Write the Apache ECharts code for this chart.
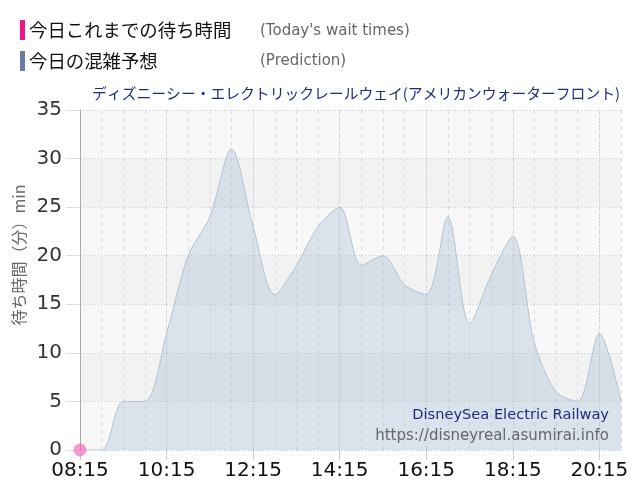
<!DOCTYPE html>
<html>
<head>
<meta charset="utf-8">
<script src="https://cdn.jsdelivr.net/npm/echarts@6/dist/echarts.min.js"></script>
<style>html,body{margin:0;padding:0;background:#fff;}#c{width:640px;height:500px;}</style>
</head>
<body>
<div id="c"></div>
<script>
var times = ["08:15","08:45","09:15","09:45","10:15","10:45","11:15","11:45","12:15","12:45","13:15","13:45","14:15","14:45","15:15","15:45","16:15","16:45","17:15","17:45","18:15","18:45","19:15","19:45","20:15","20:45"];
var prediction = [0,0,5,5,12,20,24,31,23,16,19,23,25,19,20,17,16,24,13,18,22,11,6,5,12,5];
var today = [0];
var yTicks = [0,5,10,15,20,25,30,35];

var title = "ディズニーシー・エレクトリックレールウェイ(アメリカンウォーターフロント)";
var legendJa = ["今日これまでの待ち時間", "今日の混雑予想"];
var legendEn = ["(Today's wait times)", "(Prediction)"];
var yName = "待ち時間（分）min";
var attraction = "DisneySea Electric Railway";
var site = "https://disneyreal.asumirai.info";

var latin = '"DejaVu Sans", "Noto Sans CJK JP", sans-serif';
var cjk = '"Noto Sans CJK JP", "DejaVu Sans", sans-serif';

var chart = echarts.init(document.getElementById('c'), null, {renderer: 'canvas'});
chart.setOption({
  animation: false,
  backgroundColor: '#fff',
  grid: {left: 80, right: 19, top: 110, bottom: 50, containLabel: false},
  graphic: [
    {type: 'rect', shape: {x: 20, y: 20, width: 5, height: 20}, style: {fill: '#f0168c'}},
    {type: 'text', x: 29, y: 30, style: {text: legendJa[0], font: '18.4px ' + cjk, fill: '#111', textVerticalAlign: 'middle'}},
    {type: 'text', x: 260, y: 31, style: {text: legendEn[0], font: '15px ' + latin, fill: '#666', textVerticalAlign: 'middle'}},
    {type: 'rect', shape: {x: 20, y: 51, width: 5, height: 20}, style: {fill: '#6b7aa6'}},
    {type: 'text', x: 29, y: 61, style: {text: legendJa[1], font: '18.4px ' + cjk, fill: '#111', textVerticalAlign: 'middle'}},
    {type: 'text', x: 260, y: 61, style: {text: legendEn[1], font: '15px ' + latin, fill: '#666', textVerticalAlign: 'middle'}},
    {type: 'text', x: 620, y: 93, style: {text: title, font: '14.8px ' + cjk, fill: '#1f2b7a', textAlign: 'right', textVerticalAlign: 'middle'}},
    {type: 'text', x: 19, y: 255, rotation: Math.PI / 2, style: {text: yName, font: '16px ' + cjk, fill: '#666', textAlign: 'center', textVerticalAlign: 'middle'}},
    {type: 'text', x: 609, y: 415, z: 100, style: {text: attraction, font: '14.6px ' + latin, fill: '#1f2b7a', textAlign: 'right', textVerticalAlign: 'middle'}},
    {type: 'text', x: 609, y: 436, z: 100, style: {text: site, font: '15px ' + latin, fill: '#666', textAlign: 'right', textVerticalAlign: 'middle'}}
  ],
  xAxis: [
    {
      type: 'category', data: times, boundaryGap: false,
      axisLine: {show: false},
      axisTick: {show: true, interval: 3, length: 10, lineStyle: {color: '#ccc'}},
      axisLabel: {interval: 3, margin: 11, fontSize: 20, color: '#111', fontFamily: 'DejaVu Sans'},
      splitLine: {show: true, interval: 0, lineStyle: {color: '#ddd', type: [4, 4], width: 1}}
    },
    {
      type: 'category', data: times, boundaryGap: false, position: 'bottom',
      axisLine: {show: false}, axisTick: {show: false}, axisLabel: {show: false},
      splitLine: {show: true, interval: 3, lineStyle: {color: '#c8c8c8', type: [1, 2], width: 1}}
    }
  ],
  yAxis: {
    type: 'value', min: 0, max: 35, interval: 5,
    axisLine: {show: true, lineStyle: {color: '#a8abb8'}},
    axisTick: {show: true, length: 14, lineStyle: {color: '#ddd'}},
    axisLabel: {margin: 18, fontSize: 20, color: '#333', fontFamily: 'DejaVu Sans',
      formatter: function (v) { return yTicks.indexOf(v) >= 0 ? String(v) : ''; }},
    splitLine: {show: true, lineStyle: {color: '#c8c8c8', type: [1, 2]}},
    splitArea: {show: true, areaStyle: {color: ['#f8f8f8', '#f2f2f2']}}
  },
  series: [
    {
      name: legendJa[1], type: 'line', data: prediction, smooth: 0.3,
      symbol: 'none',
      lineStyle: {color: '#b3c2d0', width: 1},
      areaStyle: {color: 'rgba(160,188,212,0.34)', opacity: 1},
      z: 2
    },
    {
      name: legendJa[0], type: 'line', data: today,
      symbol: 'circle', symbolSize: 13,
      itemStyle: {color: 'rgba(240,100,180,0.65)'},
      lineStyle: {color: '#f0168c'},
      z: 5
    }
  ]
});
</script>
</body>
</html>
